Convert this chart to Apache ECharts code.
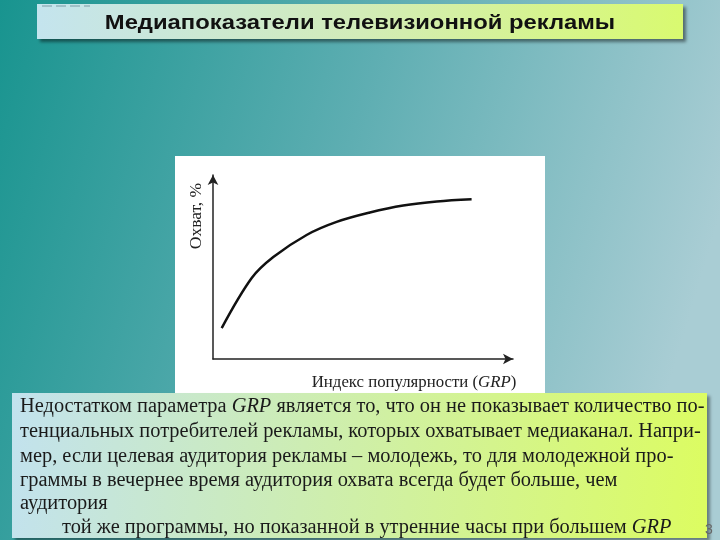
<!DOCTYPE html>
<html>
<head>
<meta charset="utf-8">
<script src="https://cdn.jsdelivr.net/npm/echarts@6/dist/echarts.min.js"></script>
<style>
  html, body { margin: 0; padding: 0; }
  #main { width: 720px; height: 540px; }
</style>
</head>
<body>
<div id="main"></div>
<script>
// данные кривой охвата
const grp = [2.9, 12.9, 20.1, 31.2, 41.2, 52.3, 63.4, 74.6, 86.2];
const reach = [16.8, 44.0, 55.4, 67.4, 74.5, 79.6, 83.4, 85.6, 86.8];

const titleText = "Медиапоказатели телевизионной рекламы";
const yName = "Охват, %";
const bodyLines = [
  "Недостатком параметра {i|GRP} является то, что он не показывает количество по-",
  "тенциальных потребителей рекламы, которых охватывает медиаканал. Напри-",
  "мер, если целевая аудитория рекламы – молодежь, то для молодежной про-",
  "граммы в вечернее время аудитория охвата всегда будет больше, чем",
  "аудитория",
  "той же программы, но показанной в утренние часы при большем {i|GRP}"
];
const pageNum = "3";

const myChart = echarts.init(document.getElementById("main"));

const serif = "'Liberation Serif', 'DejaVu Serif', serif";
const richSerif = {
  i: { fontFamily: serif, fontStyle: "italic", fontSize: 20, color: "#1a1a1a" }
};

const boxFill = new echarts.graphic.LinearGradient(0, 0, 1, 0.3, [
  { offset: 0, color: "#c2e2ee" },
  { offset: 1, color: "#dcfc62" }
]);

const lineX = [20, 20, 20, 20, 20, 62];
const lineY = [417, 442, 467, 491, 514, 538];

const graphics = [
  // заголовок
  {
    type: "rect", z: -10,
    shape: { x: 37, y: 4, width: 646, height: 35 },
    style: {
      fill: new echarts.graphic.LinearGradient(0, 0, 1, 0, [
        { offset: 0, color: "#c4e4ee" },
        { offset: 0.5, color: "#d2ecb8" },
        { offset: 1, color: "#d9fa70" }
      ]),
      shadowColor: "rgba(0,0,0,0.45)", shadowBlur: 3, shadowOffsetX: 3, shadowOffsetY: 3
    }
  },
  {
    type: "line", z: -9,
    shape: { x1: 42, y1: 6, x2: 90, y2: 6 },
    style: { stroke: "#7a9aa4", lineWidth: 1, lineDash: [10, 4] }
  },
  {
    type: "text", z: 5, x: 360, y: 23, scaleX: 1.19,
    style: {
      text: titleText, fill: "#111", align: "center", verticalAlign: "middle",
      font: "bold 20px 'Liberation Sans', Arial, sans-serif"
    }
  },
  // белая подложка рисунка
  {
    type: "rect", z: -10,
    shape: { x: 175, y: 156, width: 370, height: 243 },
    style: { fill: "#ffffff" }
  },
  {
    type: "text", z: 5, x: 196, y: 216, rotation: Math.PI / 2,
    style: {
      text: yName, fill: "#222", align: "center", verticalAlign: "middle",
      font: "17.5px " + serif
    }
  },
  // текстовый блок
  {
    type: "rect", z: -8,
    shape: { x: 12, y: 393, width: 695, height: 145 },
    style: {
      fill: boxFill,
      shadowColor: "rgba(0,0,0,0.4)", shadowBlur: 3, shadowOffsetX: 3, shadowOffsetY: 3
    }
  },
  {
    type: "text", z: 5, x: 705, y: 530,
    style: { text: pageNum, fill: "#666", font: "14px 'Liberation Sans', sans-serif", verticalAlign: "middle" }
  }
];

bodyLines.forEach(function (t, k) {
  graphics.push({
    type: "text", z: 5, x: lineX[k], y: lineY[k], scaleX: 1.02,
    style: {
      text: t, fill: "#1a1a1a", verticalAlign: "bottom",
      fontFamily: serif, fontSize: 20, rich: richSerif
    }
  });
});

const option = {
  animation: false,
  backgroundColor: new echarts.graphic.LinearGradient(0, 0, 1, 0.4, [
    { offset: 0, color: "#18948f" },
    { offset: 0.5, color: "#5eaeb2" },
    { offset: 1, color: "#a9cdd4" }
  ]),
  graphic: graphics,
  grid: { left: 213, right: 207, top: 175, bottom: 181 },
  xAxis: {
    type: "value", min: 0, max: 100,
    splitLine: { show: false }, axisTick: { show: false }, axisLabel: { show: false },
    axisLine: {
      lineStyle: { color: "#222", width: 1.5 },
      symbol: ["none", "arrow"], symbolSize: [8, 10], symbolOffset: [0, 0]
    },
    name: "{n|Индекс популярности (}{i|GRP}{n|)}",
    nameLocation: "end",
    nameGap: -99,
    nameTextStyle: {
      align: "center", verticalAlign: "top", padding: [15, 0, 0, 0],
      rich: {
        n: { fontFamily: serif, fontSize: 16.8, color: "#222" },
        i: { fontFamily: serif, fontSize: 16.8, fontStyle: "italic", color: "#222" }
      }
    }
  },
  yAxis: {
    type: "value", min: 0, max: 100,
    splitLine: { show: false }, axisTick: { show: false }, axisLabel: { show: false },
    axisLine: {
      lineStyle: { color: "#222", width: 1.5 },
      symbol: ["none", "arrow"], symbolSize: [8, 10]
    }
  },
  series: [
    {
      type: "line",
      data: grp.map(function (g, k) { return [g, reach[k]]; }),
      smooth: 0.35,
      showSymbol: false,
      lineStyle: { color: "#111", width: 2.5 }
    }
  ]
};

myChart.setOption(option);
</script>
</body>
</html>
